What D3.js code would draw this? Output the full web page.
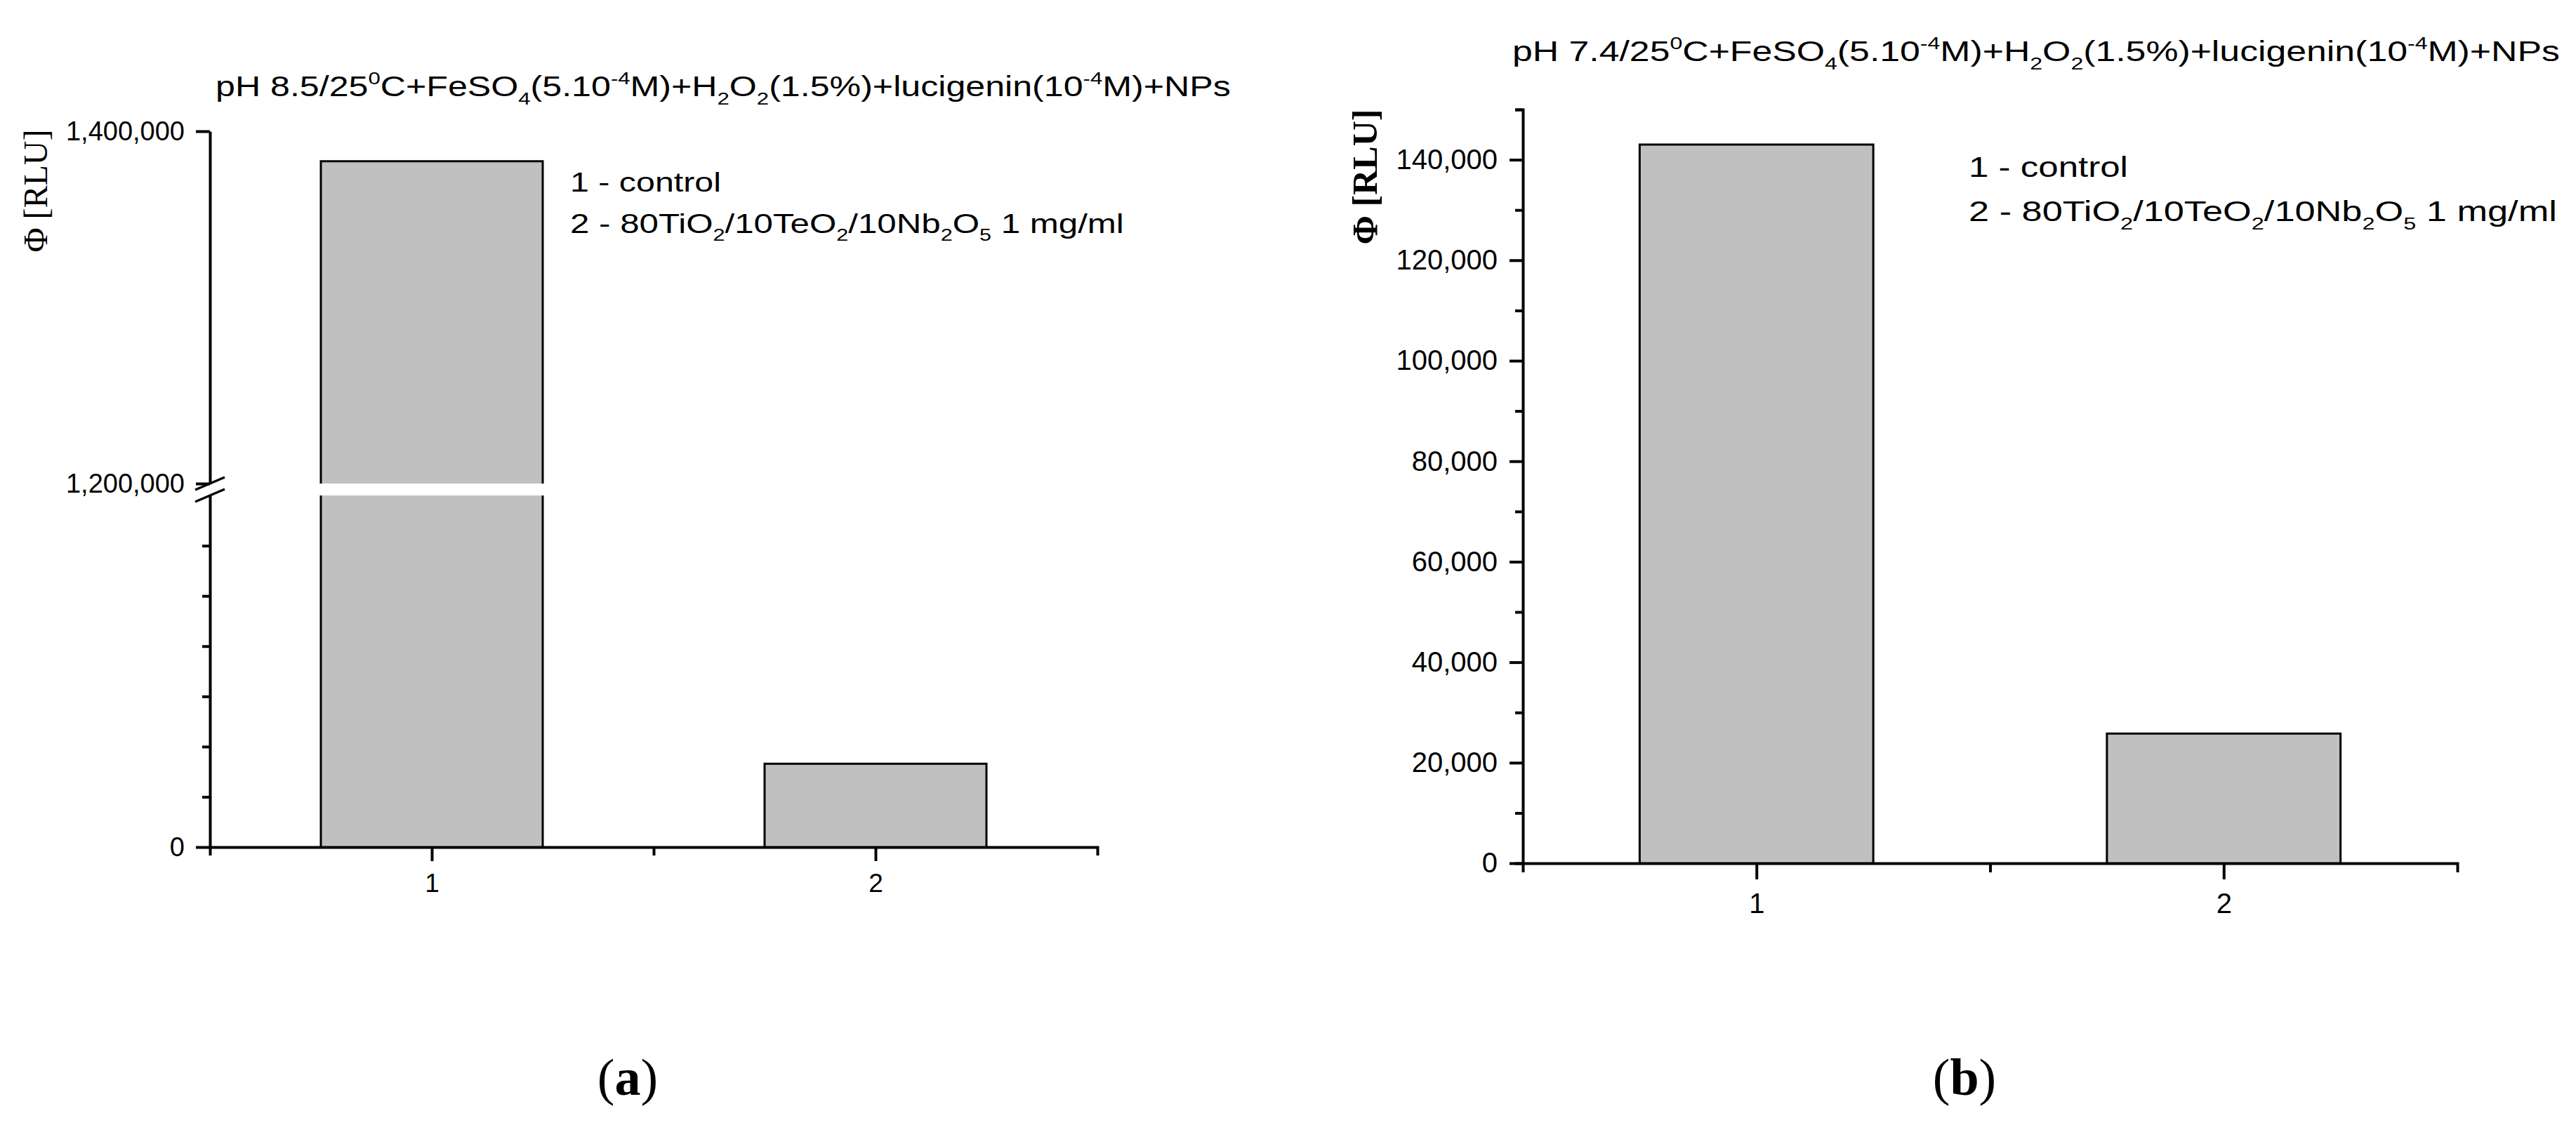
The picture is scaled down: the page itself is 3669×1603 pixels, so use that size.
<!DOCTYPE html>
<html><head><meta charset="utf-8">
<script src="https://cdn.jsdelivr.net/npm/d3@7"></script>
<style>body{margin:0;background:#fff}svg{display:block}</style>
</head><body>
<script>
// ---------- data ----------
const categories = [1, 2];
const valuesA = [1383000, 16600];      // pH 8.5 (broken axis)
const valuesB = [143000, 25800];       // pH 7.4
const lowerMinorTicksA = [10000, 20000, 30000, 40000, 50000, 60000];
const lowerMajorTicksA = [0];
const upperTicksA = [1200000, 1400000];
const majorTicksB = [0, 20000, 40000, 60000, 80000, 100000, 120000, 140000];
const minorTicksB = [10000, 30000, 50000, 70000, 90000, 110000, 130000, 150000];
const titleA = [["pH 8.5/25"], ["0", "sup"], ["C+FeSO"], ["4", "sub"], ["(5.10"], ["-4", "sup"], ["M)+H"], ["2", "sub"], ["O"], ["2", "sub"], ["(1.5%)+lucigenin(10"], ["-4", "sup"], ["M)+NPs"]];
const titleB = [["pH 7.4/25"], ["0", "sup"], ["C+FeSO"], ["4", "sub"], ["(5.10"], ["-4", "sup"], ["M)+H"], ["2", "sub"], ["O"], ["2", "sub"], ["(1.5%)+lucigenin(10"], ["-4", "sup"], ["M)+NPs"]];
const legend1 = [["1 - control"]];
const legend2 = [["2 - 80TiO"], ["2", "sub"], ["/10TeO"], ["2", "sub"], ["/10Nb"], ["2", "sub"], ["O"], ["5", "sub"], [" 1 mg/ml"]];
const yLabel = "Φ [RLU]";

// ---------- helpers ----------
const SANS = "'Liberation Sans', Arial, sans-serif";
const SERIF = "'Liberation Serif', 'Times New Roman', serif";
const svg = d3.select("body").append("svg").attr("width", 3669).attr("height", 1603);

function rich(g, parts, fs) {
  const t = g.append("text").attr("font-family", SANS).attr("font-size", fs).attr("fill", "#000");
  let off = 0;
  parts.forEach(([s, k]) => {
    let target = 0, size = fs;
    if (k === "sup") { target = -0.42 * fs; size = 0.62 * fs; }
    if (k === "sub") { target = 0.30 * fs; size = 0.62 * fs; }
    t.append("tspan").attr("font-size", size).attr("dy", target - off).text(s);
    off = target;
  });
  return t;
}
function fitted(parts, fs, x, y, w) {
  const g = svg.append("g");
  rich(g, parts, fs);
  const bw = g.node().getBBox().width;
  g.attr("transform", `translate(${x},${y}) scale(${w / bw},1)`);
}
function styleAxis(g, fs) {
  g.selectAll(".domain").attr("stroke", "#000").attr("stroke-width", 4);
  g.selectAll(".tick line").attr("stroke", "#000").attr("stroke-width", 4);
  g.selectAll(".tick text").attr("font-family", SANS).attr("font-size", fs).attr("fill", "#000");
}
function barOutline(x0, x1, yb, yt, top) {
  return top ? `M${x0},${yb}V${yt}H${x1}V${yb}` : `M${x0},${yb}V${yt}M${x1},${yt}V${yb}`;
}
function drawBar(x0, x1, yb, yt, top) {
  svg.append("rect").attr("x", x0).attr("y", yt).attr("width", x1 - x0).attr("height", yb - yt).attr("fill", "#c0c0c0");
  svg.append("path").attr("d", barOutline(x0, x1, yb, yt, top)).attr("fill", "none").attr("stroke", "#000").attr("stroke-width", 3);
}

// ---------- panel (a) ----------
const xA = d3.scaleLinear().domain([0.5, 2.5]).range([299, 1563]);
const yAlow = d3.scaleLinear().domain([0, 70000]).range([1207, 706]);
const yAup = d3.scaleLinear().domain([1200000, 1400000]).range([689, 187]);
const bwA = 0.5;

categories.forEach((c, i) => {
  const v = valuesA[i];
  const x0 = xA(c - bwA / 2), x1 = xA(c + bwA / 2);
  if (v > yAup.domain()[0]) {
    drawBar(x0, x1, yAlow(0), yAlow(yAlow.domain()[1]), false);
    drawBar(x0, x1, yAup(yAup.domain()[0]), yAup(v), true);
  } else {
    drawBar(x0, x1, yAlow(0), yAlow(v), true);
  }
});

// y axis (upper segment)
const gAu = svg.append("g").attr("transform", `translate(${xA(0.5)},0)`)
  .call(d3.axisLeft(yAup).tickValues(upperTicksA).tickSize(20).tickSizeOuter(0).tickPadding(16).tickFormat(d3.format(",")));
styleAxis(gAu, 38);
// y axis (lower segment)
const gAl = svg.append("g").attr("transform", `translate(${xA(0.5)},0)`)
  .call(d3.axisLeft(yAlow).tickValues(lowerMajorTicksA).tickSize(20).tickSizeOuter(0).tickPadding(16).tickFormat(d3.format(",")));
styleAxis(gAl, 38);
const gAm = svg.append("g").attr("transform", `translate(${xA(0.5)},0)`)
  .call(d3.axisLeft(yAlow).tickValues(lowerMinorTicksA).tickSize(11).tickSizeOuter(0).tickFormat(""));
styleAxis(gAm, 38);
gAm.select(".domain").remove();
// break marks
[yAup(yAup.domain()[0]), yAlow(yAlow.domain()[1])].forEach(yy => {
  svg.append("line").attr("x1", xA(0.5) - 21).attr("y1", yy + 9).attr("x2", xA(0.5) + 21).attr("y2", yy - 9)
    .attr("stroke", "#000").attr("stroke-width", 3.5);
});
// x axis
const gAx = svg.append("g").attr("transform", `translate(0,${yAlow(0)})`)
  .call(d3.axisBottom(xA).tickValues(categories).tickSize(20).tickSizeOuter(12).tickPadding(18).tickFormat(d3.format("d")));
styleAxis(gAx, 37);
const gAxm = svg.append("g").attr("transform", `translate(0,${yAlow(0)})`)
  .call(d3.axisBottom(xA).tickValues([1.5]).tickSize(12).tickFormat(""));
styleAxis(gAxm, 37);
gAxm.select(".domain").remove();

// texts (a)
fitted(titleA, 40, 307, 137, 1446);
fitted(legend1, 38, 812, 273, 215);
fitted(legend2, 38, 812, 332, 789);
svg.append("text").attr("transform", "translate(67,272) rotate(-90)").attr("text-anchor", "middle")
  .attr("font-family", SERIF).attr("font-size", 48).text(yLabel);
const la = svg.append("text").attr("x", 894).attr("y", 1560).attr("text-anchor", "middle")
  .attr("font-family", SERIF).attr("font-size", 74);
la.append("tspan").text("(");
la.append("tspan").attr("font-weight", "bold").text("a");
la.append("tspan").text(")");

// ---------- panel (b) ----------
const xB = d3.scaleLinear().domain([0.5, 2.5]).range([2169, 3500]);
const yB = d3.scaleLinear().domain([0, 150000]).range([1230, 156]);
const bwB = 0.5;

categories.forEach((c, i) => {
  drawBar(xB(c - bwB / 2), xB(c + bwB / 2), yB(0), yB(valuesB[i]), true);
});

const gBy = svg.append("g").attr("transform", `translate(${xB(0.5)},0)`)
  .call(d3.axisLeft(yB).tickValues(majorTicksB).tickSize(19).tickSizeOuter(11).tickPadding(17).tickFormat(d3.format(",")));
styleAxis(gBy, 40);
const gBym = svg.append("g").attr("transform", `translate(${xB(0.5)},0)`)
  .call(d3.axisLeft(yB).tickValues(minorTicksB).tickSize(11).tickFormat(""));
styleAxis(gBym, 40);
gBym.select(".domain").remove();

const gBx = svg.append("g").attr("transform", `translate(0,${yB(0)})`)
  .call(d3.axisBottom(xB).tickValues(categories).tickSize(23).tickSizeOuter(13).tickPadding(20).tickFormat(d3.format("d")));
styleAxis(gBx, 40);
const gBxm = svg.append("g").attr("transform", `translate(0,${yB(0)})`)
  .call(d3.axisBottom(xB).tickValues([1.5]).tickSize(13).tickFormat(""));
styleAxis(gBxm, 40);
gBxm.select(".domain").remove();

fitted(titleB, 40, 2154, 87, 1492);
fitted(legend1, 40, 2804, 252, 227);
fitted(legend2, 40, 2804, 315, 838);
svg.append("text").attr("transform", "translate(1961,252) rotate(-90)").attr("text-anchor", "middle")
  .attr("font-family", SERIF).attr("font-weight", "bold").attr("font-size", 50).text(yLabel);
const lb = svg.append("text").attr("x", 2798).attr("y", 1560).attr("text-anchor", "middle")
  .attr("font-family", SERIF).attr("font-size", 74);
lb.append("tspan").text("(");
lb.append("tspan").attr("font-weight", "bold").text("b");
lb.append("tspan").text(")");
</script>
</body></html>
